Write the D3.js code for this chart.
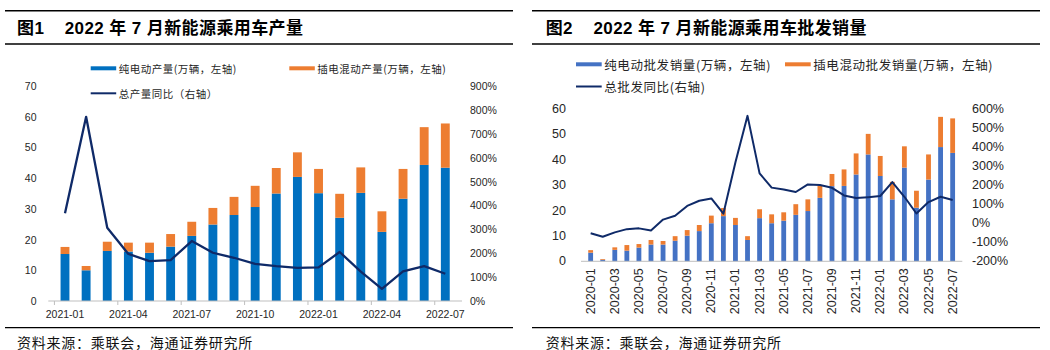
<!DOCTYPE html>
<html>
<head>
<meta charset="utf-8">
<script src="https://cdn.jsdelivr.net/npm/d3@7"></script>
<style>
  body { margin: 0; background: #fff; }
  svg text { white-space: pre; }
</style>
</head>
<body>
<svg id="chart" width="1050" height="350"></svg>
<script>
// ====== 图1: 新能源乘用车产量 (2021-01 .. 2022-07) ======
const prodMonths = ['2021-01','2021-02','2021-03','2021-04','2021-05','2021-06','2021-07','2021-08','2021-09',
  '2021-10','2021-11','2021-12','2022-01','2022-02','2022-03','2022-04','2022-05','2022-06','2022-07'];
const prodBev  = [15.3, 10.0, 16.3, 16.1, 15.7, 17.7, 21.2, 24.9, 28.0, 30.6, 35.0, 40.4, 35.1, 27.1, 35.2, 22.5, 33.3, 44.3, 43.4];
const prodPhev = [2.3, 1.4, 3.0, 2.9, 3.3, 4.1, 4.6, 5.4, 5.9, 6.9, 8.3, 8.0, 7.9, 7.8, 8.3, 6.7, 9.7, 12.3, 14.4];
const prodYoy  = [367, 771, 307, 197, 167, 171, 251, 202, 181, 155, 146, 139, 141, 205, 123, 51, 124, 146, 114];
const prodLeftTicks  = [0, 10, 20, 30, 40, 50, 60, 70];
const prodRightTicks = [0, 100, 200, 300, 400, 500, 600, 700, 800, 900];

// ====== 图2: 新能源乘用车批发销量 (2020-01 .. 2022-07) ======
const wsMonths = ['2020-01','2020-02','2020-03','2020-04','2020-05','2020-06','2020-07','2020-08','2020-09','2020-10',
  '2020-11','2020-12','2021-01','2021-02','2021-03','2021-04','2021-05','2021-06','2021-07','2021-08','2021-09',
  '2021-10','2021-11','2021-12','2022-01','2022-02','2022-03','2022-04','2022-05','2022-06','2022-07'];
const wsBev  = [3.4, 0.6, 4.5, 4.2, 5.4, 6.6, 6.6, 8.1, 10.1, 11.9, 15.0, 17.8, 14.3, 8.4, 17.0, 15.0, 16.0, 18.3, 19.8,
  25.0, 29.6, 29.7, 34.2, 42.1, 33.6, 24.4, 36.9, 21.1, 32.2, 45.0, 42.7];
const wsPhev = [1.0, 0.3, 1.0, 2.2, 1.4, 1.8, 1.4, 1.8, 2.2, 2.4, 3.0, 3.2, 2.8, 1.5, 3.5, 3.5, 3.3, 4.2, 4.6,
  4.7, 4.8, 6.5, 8.3, 8.1, 7.9, 6.9, 8.4, 6.7, 9.9, 11.9, 13.6];
const wsYoy  = [-53, -71, -48, -31, -27, -38, 19, 39, 91, 118, 130, 50, 320, 564, 262, 187, 177, 164, 204,
  201, 186, 146, 132, 137, 143, 216, 139, 51, 111, 139, 122];
const wsLeftTicks  = [0, 10, 20, 30, 40, 50, 60];
const wsRightTicks = [-200, -100, 0, 100, 200, 300, 400, 500, 600];

const BLUE1 = '#0070c0', BLUE2 = '#4472c4', ORANGE = '#ed7d31', NAVY = '#0f2a68';
const NUM_FONT = '"Liberation Sans", Arial, sans-serif';
const CJK_FONT = '"Noto Sans CJK SC", "Liberation Sans", sans-serif';

const svg = d3.select('#chart');

function drawPanel(cfg) {
  const g = svg.append('g');

  // title block with rules
  g.append('line').attr('x1', cfg.ruleX[0]).attr('x2', cfg.ruleX[1]).attr('y1', 10.7).attr('y2', 10.7)
    .attr('stroke', '#000').attr('stroke-width', 1.5);
  g.append('line').attr('x1', cfg.ruleX[0]).attr('x2', cfg.ruleX[1]).attr('y1', 44).attr('y2', 44)
    .attr('stroke', '#000').attr('stroke-width', 1.3);
  g.append('text').attr('x', cfg.textX).attr('y', 28.5)
    .attr('dominant-baseline', 'central')
    .attr('font-family', '"Liberation Sans", "Noto Sans CJK SC", sans-serif')
    .attr('font-weight', 'bold').attr('font-size', 17).attr('fill', '#000')
    .attr('letter-spacing', 0.4)
    .text(cfg.title);

  // source
  g.append('line').attr('x1', cfg.ruleX[0]).attr('x2', cfg.ruleX[1]).attr('y1', 327.7).attr('y2', 327.7)
    .attr('stroke', '#000').attr('stroke-width', 1.3);
  g.append('text').attr('x', cfg.textX).attr('y', 341.5)
    .attr('dominant-baseline', 'central')
    .attr('font-family', CJK_FONT).attr('font-size', 14).attr('fill', '#111')
    .attr('letter-spacing', 0.75)
    .text('资料来源：乘联会，海通证券研究所');

  // scales
  const x = d3.scaleBand().domain(cfg.months).range(cfg.xRange).padding(cfg.pad);
  const y = d3.scaleLinear().domain(cfg.yDomain).range(cfg.yRange);
  const y2 = d3.scaleLinear().domain(cfg.y2Domain).range(cfg.yRange);

  const rows = cfg.months.map((m, i) => ({ month: m, bev: cfg.bev[i], phev: cfg.phev[i], yoy: cfg.yoy[i] }));
  const stacked = d3.stack().keys(['bev', 'phev'])(rows);
  const colors = { bev: cfg.bevColor, phev: ORANGE };

  // bars
  g.selectAll('.layer')
    .data(stacked)
    .enter().append('g')
      .attr('fill', d => colors[d.key])
    .selectAll('rect')
    .data(d => d)
    .enter().append('rect')
      .attr('x', d => x(d.data.month))
      .attr('width', x.bandwidth())
      .attr('y', d => y(d[1]))
      .attr('height', d => y(d[0]) - y(d[1]));

  // x axis line
  const axisY = y(0);
  g.append('line').attr('x1', cfg.xRange[0]).attr('x2', cfg.xRange[1])
    .attr('y1', axisY).attr('y2', axisY).attr('stroke', '#bfbfbf').attr('stroke-width', 1);

  // x ticks + labels
  const labelled = cfg.months.filter((m, i) => i % cfg.labelEvery === 0);
  if (cfg.ticks) {
    g.selectAll('.xtick').data(labelled).enter().append('line')
      .attr('x1', d => x(d) - x.step() * x.padding() / 2)
      .attr('x2', d => x(d) - x.step() * x.padding() / 2)
      .attr('y1', axisY).attr('y2', axisY + 4)
      .attr('stroke', '#bfbfbf');
  }
  if (cfg.rotate) {
    g.selectAll('.xlab').data(labelled).enter().append('text')
      .attr('transform', d => 'translate(' + (x(d) + x.bandwidth() / 2) + ',' + (axisY + 7) + ') rotate(-90)')
      .attr('text-anchor', 'end').attr('dominant-baseline', 'central')
      .attr('font-family', NUM_FONT).attr('font-size', cfg.tickSize).attr('fill', '#262626')
      .text(d => d);
  } else {
    g.selectAll('.xlab').data(labelled).enter().append('text')
      .attr('x', d => x(d) + x.bandwidth() / 2).attr('y', axisY + 13)
      .attr('text-anchor', 'middle').attr('dominant-baseline', 'central')
      .attr('font-family', NUM_FONT).attr('font-size', cfg.tickSize).attr('fill', '#262626')
      .text(d => d);
  }

  // y labels left
  g.selectAll('.ylab').data(cfg.leftTicks).enter().append('text')
    .attr('x', cfg.leftLabelX).attr('y', d => y(d))
    .attr('text-anchor', 'end').attr('dominant-baseline', 'central')
    .attr('font-family', NUM_FONT).attr('font-size', cfg.tickSize).attr('fill', '#262626')
    .text(d => d);

  // y labels right
  g.selectAll('.y2lab').data(cfg.rightTicks).enter().append('text')
    .attr('x', cfg.rightLabelX).attr('y', d => y2(d))
    .attr('text-anchor', 'start').attr('dominant-baseline', 'central')
    .attr('font-family', NUM_FONT).attr('font-size', cfg.tickSize).attr('fill', '#262626')
    .text(d => d + '%');

  // yoy line
  const line = d3.line()
    .x(d => x(d.month) + x.bandwidth() / 2)
    .y(d => y2(d.yoy));
  g.append('path').datum(rows)
    .attr('d', line).attr('fill', 'none')
    .attr('stroke', NAVY).attr('stroke-width', cfg.lineWidth)
    .attr('stroke-linejoin', 'round');

  // legend
  const L = cfg.legend;
  const leg = g.append('g').attr('font-family', CJK_FONT).attr('font-size', L.size).attr('fill', '#262626')
    .attr('letter-spacing', L.spacing);
  leg.append('rect').attr('x', L.x1).attr('y', L.row1 - 2).attr('width', L.sw).attr('height', 4).attr('fill', cfg.bevColor);
  leg.append('text').attr('x', L.x1 + L.sw + 2.5).attr('y', L.row1).attr('dominant-baseline', 'central').text(L.names[0]);
  leg.append('rect').attr('x', L.x2).attr('y', L.row1 - 2).attr('width', L.sw).attr('height', 4).attr('fill', ORANGE);
  leg.append('text').attr('x', L.x2 + L.sw + 2.5).attr('y', L.row1).attr('dominant-baseline', 'central').text(L.names[1]);
  leg.append('line').attr('x1', L.x1).attr('x2', L.x1 + L.sw).attr('y1', L.row2).attr('y2', L.row2)
    .attr('stroke', NAVY).attr('stroke-width', 2);
  leg.append('text').attr('x', L.x1 + L.sw + 2.5).attr('y', L.row2).attr('dominant-baseline', 'central').text(L.names[2]);
}

drawPanel({
  title: '图1    2022 年 7 月新能源乘用车产量',
  ruleX: [5, 513], textX: 17,
  months: prodMonths, bev: prodBev, phev: prodPhev, yoy: prodYoy,
  xRange: [48.3, 462], pad: 0.58,
  yDomain: [0, 70], y2Domain: [0, 900], yRange: [301, 86],
  leftTicks: prodLeftTicks, rightTicks: prodRightTicks,
  leftLabelX: 36.5, rightLabelX: 470,
  tickSize: 10.5, labelEvery: 3, ticks: true, rotate: false,
  bevColor: BLUE1, lineWidth: 2.3,
  legend: { x1: 90.7, x2: 289.3, sw: 25.5, row1: 68.3, row2: 93.3, size: 10.5, spacing: 0.5,
    names: ['纯电动产量(万辆，左轴)', '插电混动产量(万辆，左轴)', '总产量同比（右轴）'] }
});

drawPanel({
  title: '图2    2022 年 7 月新能源乘用车批发销量',
  ruleX: [532, 1040], textX: 545.7,
  months: wsMonths, bev: wsBev, phev: wsPhev, yoy: wsYoy,
  xRange: [581, 962.3], pad: 0.6,
  yDomain: [0, 60], y2Domain: [-200, 600], yRange: [261.3, 109],
  leftTicks: wsLeftTicks, rightTicks: wsRightTicks,
  leftLabelX: 566, rightLabelX: 972,
  tickSize: 12.5, labelEvery: 2, ticks: false, rotate: true,
  bevColor: BLUE2, lineWidth: 2,
  legend: { x1: 576, x2: 785, sw: 25.7, row1: 64.3, row2: 86.5, size: 12.5, spacing: 0.6,
    names: ['纯电动批发销量(万辆，左轴)', '插电混动批发销量(万辆，左轴)', '总批发同比(右轴)'] }
});
</script>
</body>
</html>
